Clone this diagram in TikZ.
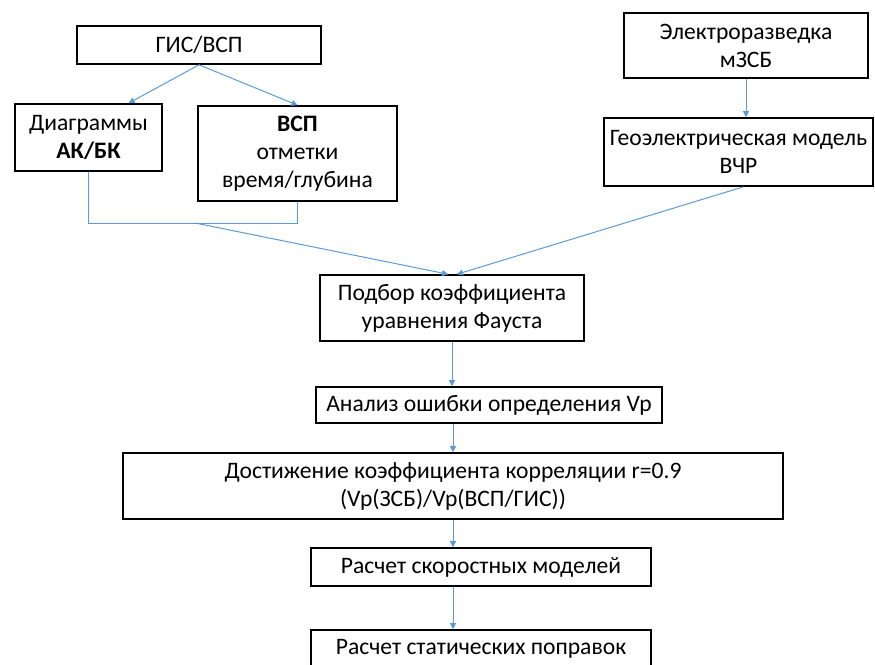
\documentclass[tikz,border=0pt]{standalone}
\usepackage{fontspec}
\setmainfont{Carlito}
\usetikzlibrary{arrows.meta,calc}
\definecolor{arrowblue}{HTML}{5B9BD5}
\begin{document}
\begin{tikzpicture}[x=1pt,y=-1pt,
  box/.style={draw=black,line width=1.6pt,rectangle,align=center,inner sep=0pt,
    font=\fontsize{23.6}{28}\selectfont},
  conn/.style={draw=arrowblue,line width=1pt},
  arr/.style={conn,-{Triangle[length=6pt,width=6pt]}}]
\useasboundingbox (0,0) rectangle (875,664);
\node[box,minimum width=244pt,minimum height=38pt] (gis) at (199,45) {ГИС/ВСП};
\node[box,minimum width=147pt,minimum height=67pt] (diag) at (88.5,137.5) {Диаграммы\\\textbf{АК/БК}};
\node[box,minimum width=199pt,minimum height=95pt] (vsp) at (297.5,153.5) {\textbf{ВСП}\\отметки\\время/глубина};
\node[box,minimum width=244pt,minimum height=65pt] (elec) at (746,45.5) {Электроразведка\\мЗСБ};
\node[box,minimum width=269pt,minimum height=68pt] (geo) at (738.5,152) {Геоэлектрическая модель\\ВЧР};
\node[box,minimum width=264pt,minimum height=66pt] (podbor) at (452,308) {Подбор коэффициента\\уравнения Фауста};
\node[box,minimum width=346pt,minimum height=36pt] (analiz) at (489,405) {Анализ ошибки определения Vp};
\node[box,minimum width=660pt,minimum height=66pt] (dost) at (453,486) {Достижение коэффициента корреляции r=0.9\\(Vp(ЗСБ)/Vp(ВСП/ГИС))};
\node[box,minimum width=340pt,minimum height=38pt] (skor) at (481,567) {Расчет скоростных моделей};
\node[box,minimum width=340pt,minimum height=38pt] (stat) at (481,649) {Расчет статических поправок};
% connectors
\draw[arr] (gis.south) -- ($(diag.north west)!0.77!(diag.north east)$);
\draw[arr] (gis.south) -- (vsp.north);
\draw[conn] (diag.south) -- ++(0,52) -| (vsp.south);
\coordinate (merge) at (195,223);
\draw[arr] (merge) -- ($(podbor.north)+(-4,0)$);
\draw[arr] ($(geo.south)+(5,0)$) -- ($(podbor.north)+(5,0)$);
\draw[arr] (elec.south) -- (elec.south |- geo.north);
\draw[arr] (podbor.south) -- (podbor.south |- analiz.north);
\draw[arr] (dost.north |- analiz.south) -- (dost.north);
\draw[arr] (dost.south) -- (dost.south |- skor.north);
\draw[arr] (dost.south |- skor.south) -- (dost.south |- stat.north);
\end{tikzpicture}
\end{document}
